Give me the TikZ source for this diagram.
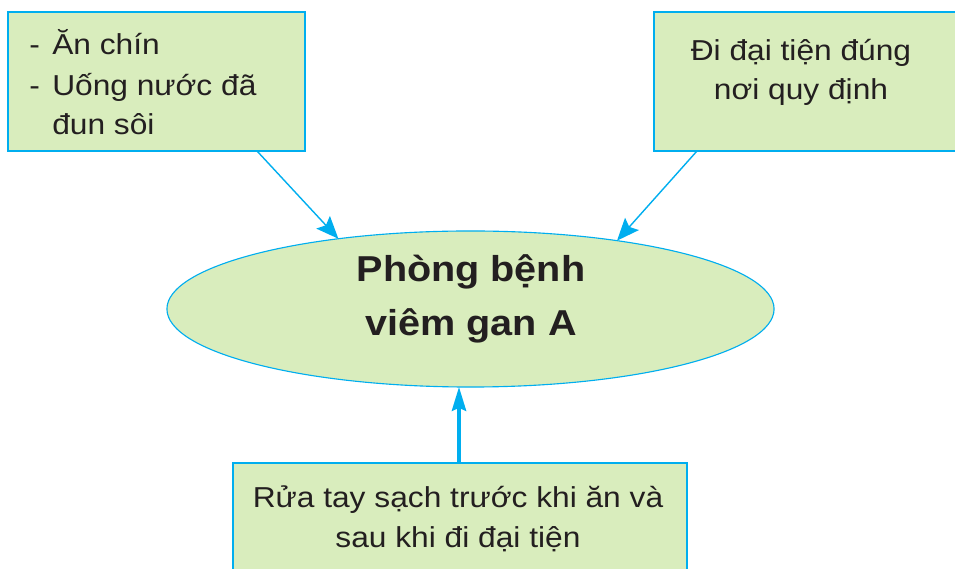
\documentclass[tikz,border=0pt]{standalone}
\usepackage{fontspec}
\setmainfont{Liberation Sans}[FakeStretch=1.1]
\usetikzlibrary{shapes.geometric,arrows.meta}
\definecolor{boxfill}{RGB}{217,237,189}
\definecolor{cyanline}{RGB}{0,174,239}
\definecolor{ink}{RGB}{35,31,32}
\begin{document}
\begin{tikzpicture}[x=0.025cm,y=-0.025cm,
  box/.style={draw=cyanline,fill=boxfill,line width=0.9pt,rectangle,inner sep=0pt,outer sep=0pt,anchor=north west},
  oval/.style={draw=cyanline,fill=boxfill,line width=0.8pt,ellipse,inner sep=0pt,outer sep=0pt,minimum width=15.175cm,minimum height=3.9cm},
  txt/.style={font=\fontsize{20.5pt}{24pt}\selectfont,text=ink,inner sep=0pt,anchor=base},
  txtl/.style={txt,anchor=base west},
  big/.style={font=\fontsize{25.6pt}{30pt}\selectfont\bfseries,text=ink,inner sep=0pt,anchor=base},
  thin arrow/.style={draw=cyanline,line width=1pt,-{Stealth[length=0.56cm,width=0.46cm,inset=0.1cm]}},
  thick arrow/.style={draw=cyanline,line width=2.2pt,-{Stealth[length=0.6cm,width=0.36cm,inset=0.08cm]}}]
\useasboundingbox (0,0) rectangle (955,569);
\clip (0,0) rectangle (955,569);
% boxes
\node[box,minimum width=7.425cm,minimum height=3.475cm] (b1) at (8,12) {};
\node[box,minimum width=8.5cm,minimum height=3.475cm] (b2) at (654,12) {};
\node[box,minimum width=11.35cm,minimum height=3.75cm] (b3) at (233,463) {};
\node[oval] (ell) at (470.5,309) {};
% texts
\node[txtl] (d1) at (29,55) {-};
\node[txtl] (t1a) at (52,55) {Ăn chín};
\node[txtl] (d2) at (29,96) {-};
\node[txtl] (t1b) at (52,96) {Uống nước đã};
\node[txtl] (t1c) at (52,135) {đun sôi};
\node[txt] (t2a) at (801,61) {Đi đại tiện đúng};
\node[txt] (t2b) at (801,100) {nơi quy định};
\node[txt] (t3a) at (458,508) {Rửa tay sạch trước khi ăn và};
\node[txt] (t3b) at (458,548) {sau khi đi đại tiện};
\node[big] (e1) at (471,282) {Phòng bệnh};
\node[big] (e2) at (471,336) {viêm gan A};
% connectors
\coordinate (s1) at (257,151);
\coordinate (s2) at (697,151);
\coordinate (s3) at (459,463);
\draw[thin arrow] (s1) -- (ell.152.3);
\draw[thin arrow] (s2) -- (ell.25.2);
\draw[thick arrow] (s3) -- (s3 |- ell.south);
\end{tikzpicture}
\end{document}
